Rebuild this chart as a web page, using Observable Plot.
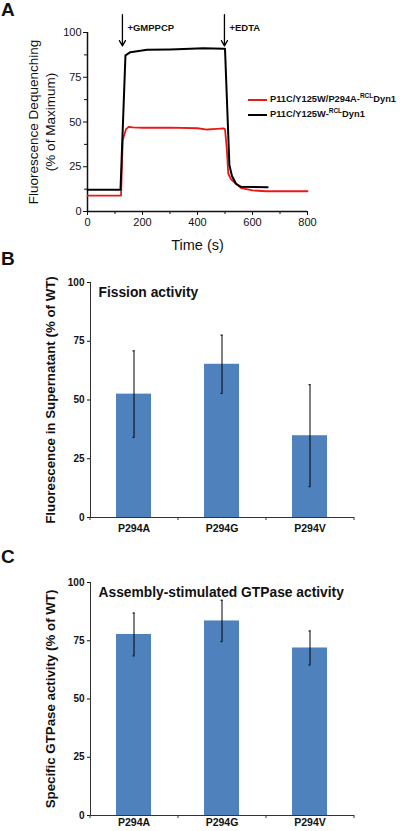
<!DOCTYPE html>
<html>
<head>
<meta charset="utf-8">
<script src="https://cdn.jsdelivr.net/npm/d3@7"></script>
<script src="https://cdn.jsdelivr.net/npm/@observablehq/plot@0.6"></script>
<style>
  html, body { margin: 0; padding: 0; background: #fff; }
  body { width: 400px; height: 831px; overflow: hidden; position: relative; font-family: "Liberation Sans", Arial, sans-serif; }
  .panel { position: absolute; left: 0; }
  .panel svg { background: transparent !important; }
  .letter { position: absolute; font-weight: bold; font-size: 19px; color: #111; }
  .legend { position: absolute; left: 248px; font-weight: bold; font-size: 9.3px; color: #111; }
  .legend div { height: 15px; line-height: 15px; white-space: nowrap; }
  .legend span.sw { display: inline-block; width: 19px; height: 0; border-top: 2px solid; vertical-align: middle; margin-right: 3px; }
  .legend sup { font-size: 6.5px; vertical-align: 4px; line-height: 0; }
</style>
</head>
<body>
<div id="a" class="panel" style="top:0"></div>
<div id="b" class="panel" style="top:260px"></div>
<div id="c" class="panel" style="top:553px"></div>
<div class="letter" style="left:1px;top:-1px">A</div>
<div class="letter" style="left:1px;top:248px">B</div>
<div class="letter" style="left:1px;top:546px">C</div>
<div class="legend" style="top:92px">
  <div><span class="sw" style="border-color:#e8191b"></span>P11C/Y125W/P294A-<sup>RCL</sup>Dyn1</div>
  <div><span class="sw" style="border-color:#000"></span>P11C/Y125W-<sup>RCL</sup>Dyn1</div>
</div>
<script>
// ---- Panel A data (time in s, % of maximum) ----
const blackTime  = [0, 120, 138, 156, 217, 300, 375, 420, 496, 500, 516, 525, 540, 558, 655];
const blackValue = [12.2, 12.2, 87.2, 89.0, 90.3, 90.5, 90.9, 91.2, 90.9, 90.9, 26.0, 20.0, 15.5, 13.8, 13.6];
const redTime  = [0, 122, 128, 133, 140, 150, 165, 200, 300, 400, 435, 470, 496, 500, 506, 512, 522, 540, 560, 600, 650, 800];
const redValue = [8.9, 8.9, 40.0, 42.5, 46.0, 47.3, 47.0, 46.8, 46.9, 46.5, 45.8, 46.2, 46.4, 46.0, 36.0, 21.0, 18.0, 15.5, 13.0, 11.8, 11.3, 11.3];
const annotTime  = [127, 498];
const annotLabel = ["+GMPPCP", "+EDTA"];
const xTicksA = [0, 200, 400, 600, 800];
const xMinorA = [100, 300, 500, 700];
const yTicks = [0, 25, 50, 75, 100];
const yMinorA = [12.5, 37.5, 62.5, 87.5];

// ---- Panels B, C data ----
const categories = ["P294A", "P294G", "P294V"];
const fission    = [52.5, 65.2, 34.8];
const fissionErr = [18.4, 12.4, 21.7];
const gtpase     = [77.7, 83.5, 71.9];
const gtpaseErr  = [9.2, 8.9, 7.3];

const FONT = "Liberation Sans, Arial, sans-serif";

const black = blackTime.map((t, i) => ({t, v: blackValue[i]}));
const red = redTime.map((t, i) => ({t, v: redValue[i]}));
const annots = annotTime.map((t, i) => ({t, label: annotLabel[i]}));

const chartA = Plot.plot({
  width: 400, height: 260,
  marginLeft: 87, marginRight: 93, marginTop: 32, marginBottom: 49,
  style: {fontFamily: FONT, fontSize: "11px", color: "#111", overflow: "visible", background: "transparent"},
  x: {domain: [0, 800]},
  y: {domain: [0, 100]},
  marks: [
    Plot.axisX({ticks: xTicksA, tickSize: 4, tickPadding: 3, label: null, fontSize: 11}),
    Plot.axisX({ticks: xMinorA, tickSize: 3, tickFormat: () => "", label: null}),
    Plot.axisY({ticks: yTicks, tickSize: 4, tickPadding: 2, label: null, fontSize: 11}),
    Plot.axisY({ticks: yMinorA, tickSize: 3, tickFormat: () => "", label: null}),
    Plot.ruleY([0], {strokeWidth: 1.5}),
    Plot.ruleX([0], {strokeWidth: 1.5}),
    Plot.line(red, {x: "t", y: "v", stroke: "#e8191b", strokeWidth: 1.8}),
    Plot.line(black, {x: "t", y: "v", stroke: "#000", strokeWidth: 2}),
    Plot.arrow(annots, {x1: "t", x2: "t", y1: 110, y2: 92.5, stroke: "#000", strokeWidth: 1.3, headLength: 7}),
    Plot.text(annots, {x: "t", y: 102.5, text: "label", textAnchor: "start", dx: 5, fontWeight: "bold", fontSize: 9.5}),
    Plot.text(["Time (s)"], {frameAnchor: "bottom", text: d => d, dy: 34, fontSize: 14.5, lineAnchor: "middle"}),
    Plot.text(["Fluorescence Dequenching\n(% of Maximum)"], {frameAnchor: "left", text: d => d, rotate: -90, dx: -46, fontSize: 13.5, textAnchor: "middle", lineAnchor: "middle", lineHeight: 1.25})
  ]
});
document.getElementById("a").append(chartA);

function barPanel(values, errs, title, ylabel, height, mt, mb, tickPad) {
  const data = categories.map((c, i) => ({c, v: values[i], e: errs[i]}));
  const ml = 90, mr = 46, width = 400;
  const step = (width - ml - mr) / categories.length;
  return Plot.plot({
    width, height,
    marginLeft: ml, marginRight: mr, marginTop: mt, marginBottom: mb,
    style: {fontFamily: FONT, fontSize: "10px", fontWeight: "bold", color: "#111", overflow: "visible", background: "transparent"},
    x: {domain: categories, paddingInner: 0.6, paddingOuter: 0.3, align: 0.5},
    y: {domain: [0, 100]},
    marks: [
      Plot.axisY({ticks: yTicks, tickSize: 3, tickPadding: 3, label: null, fontWeight: "bold"}),
      Plot.axisX({tickSize: 0, tickPadding: tickPad, label: null, fontWeight: "bold", fontSize: 10.5}),
      Plot.barY(data, {x: "c", y: "v", fill: "#4f81bd"}),
      Plot.ruleX(data, {x: "c", y1: d => d.v - d.e, y2: d => d.v + d.e, stroke: "#000", strokeWidth: 1}),
      Plot.tickY(data, {x: "c", y: d => d.v - d.e, stroke: "#000", strokeWidth: 1, insetLeft: 16.5, insetRight: 16.5}),
      Plot.tickY(data, {x: "c", y: d => d.v + d.e, stroke: "#000", strokeWidth: 1, insetLeft: 16.5, insetRight: 16.5}),
      Plot.ruleY([0], {stroke: "#333", strokeWidth: 1}),
      Plot.ruleX(categories, {x: d => d, dx: -step / 2, y1: 0, y2: 0, insetBottom: -3, stroke: "#333"}),
      Plot.ruleX(categories.slice(-1), {x: d => d, dx: step / 2, y1: 0, y2: 0, insetBottom: -3, stroke: "#333"}),
      Plot.frame({anchor: "left", stroke: "#333"}),
      Plot.text([title], {frameAnchor: "top-left", text: d => d, dx: 8, dy: 5, fontSize: 13.8, fontWeight: "bold", lineAnchor: "top"}),
      Plot.text([ylabel], {frameAnchor: "left", text: d => d, rotate: -90, dx: -40, fontSize: 13.3, fontWeight: "bold", textAnchor: "middle", lineAnchor: "middle"})
    ]
  });
}

document.getElementById("b").append(barPanel(fission, fissionErr, "Fission activity",
  "Fluorescence in Supernatant (% of WT)", 290, 22, 33, 7));
document.getElementById("c").append(barPanel(gtpase, gtpaseErr, "Assembly-stimulated GTPase activity",
  "Specific GTPase activity (% of WT)", 278, 29, 16, 3));
</script>
</body>
</html>
